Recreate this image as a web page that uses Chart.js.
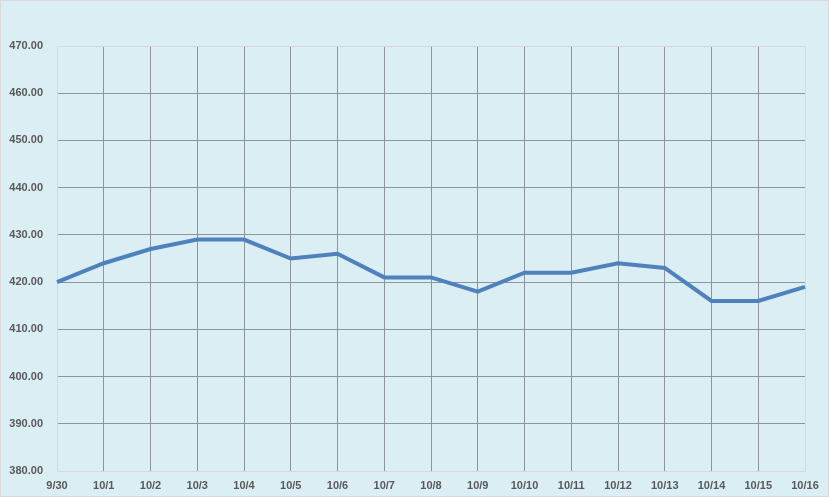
<!DOCTYPE html>
<html>
<head>
<meta charset="utf-8">
<script src="https://cdn.jsdelivr.net/npm/chart.js@4/dist/chart.umd.min.js"></script>
<style>
  body { margin: 0; background: #ffffff; }
  canvas { display: block; }
</style>
</head>
<body>
<canvas id="priceChart" width="829" height="497"></canvas>
<script>
// Dữ liệu biểu đồ
const dates = ['9/30', '10/1', '10/2', '10/3', '10/4', '10/5', '10/6', '10/7', '10/8',
    '10/9', '10/10', '10/11', '10/12', '10/13', '10/14', '10/15', '10/16'];
const prices = [420, 424, 427, 429, 429, 425, 426, 421, 421, 418, 422, 422, 424, 423, 416, 416, 419];
const yMin = 380;
const yMax = 470;
const yStep = 10;

// Nền và viền ngoài
const backgroundPlugin = {
    id: 'background',
    beforeDraw(chart) {
        const ctx = chart.ctx;
        ctx.save();
        ctx.fillStyle = '#DBEEF4';
        ctx.fillRect(0, 0, chart.width, chart.height);
        ctx.strokeStyle = '#D9D9D9';
        ctx.lineWidth = 1;
        ctx.strokeRect(0.5, 0.5, chart.width - 1, chart.height - 1);
        ctx.restore();
    }
};

// Màu lưới: đường ngoài nhạt, đường trong đậm hơn
function gridColor(context) {
    const n = context.scale.ticks.length;
    if (context.index === 0 || context.index === n - 1) {
        return '#D9D9D9';
    }
    return '#8C959C';
}

const labelFont = { family: 'Liberation Sans, Arial, sans-serif', size: 11, weight: 'bold' };

new Chart(document.getElementById('priceChart').getContext('2d'), {
    type: 'line',
    data: {
        labels: dates,
        datasets: [{
            data: prices,
            borderColor: '#4F81BD',
            borderWidth: 4,
            tension: 0,
            pointRadius: 0,
            fill: false
        }]
    },
    options: {
        responsive: false,
        animation: false,
        layout: { padding: { top: 46, right: 24, left: 0, bottom: 0 } },
        plugins: {
            legend: { display: false },
            tooltip: { enabled: false }
        },
        scales: {
            x: {
                offset: false,
                grid: { color: gridColor, drawTicks: false, lineWidth: 1 },
                border: { color: '#D9D9D9' },
                ticks: { color: '#595959', font: labelFont, padding: 8, maxRotation: 0, autoSkip: false },
                afterFit(scale) { scale.height = 26; }
            },
            y: {
                min: yMin,
                max: yMax,
                grid: { color: gridColor, drawTicks: false, lineWidth: 1 },
                border: { color: '#D9D9D9' },
                ticks: {
                    stepSize: yStep,
                    color: '#595959',
                    font: labelFont,
                    padding: 14,
                    callback: value => value.toFixed(2)
                },
                afterFit(scale) { scale.width = 57; }
            }
        }
    },
    plugins: [backgroundPlugin]
});
</script>
</body>
</html>
